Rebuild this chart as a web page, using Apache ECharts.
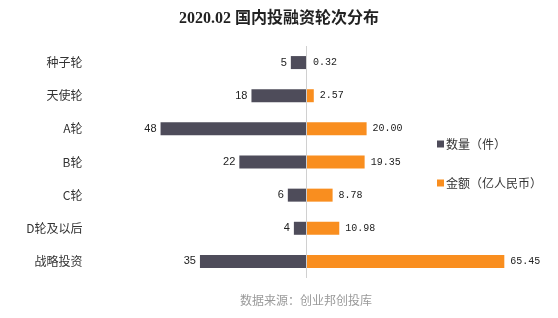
<!DOCTYPE html>
<html><head><meta charset="utf-8">
<script src="https://cdn.jsdelivr.net/npm/echarts@6/dist/echarts.min.js"></script>
<style>html,body{margin:0;padding:0;background:#fff}#c{width:558px;height:318px}</style>
</head><body><div id="c"></div>
<script>
var categories = ['种子轮','天使轮','A轮','B轮','C轮','D轮及以后','战略投资'];
var counts = [5, 18, 48, 22, 6, 4, 35];
var amounts = [0.32, 2.57, 20.00, 19.35, 8.78, 10.98, 65.45];
var seriesNames = ['数量（件）','金额（亿人民币）'];
var titleText = '2020.02 国内投融资轮次分布';
var sourceText = '数据来源：创业邦创投库';

var chart = echarts.init(document.getElementById('c'));
chart.setOption({
  animation: false,
  backgroundColor: '#fff',
  title: {
    text: titleText, left: 'center', top: 6,
    textStyle: {fontFamily: '"Liberation Serif","Noto Sans CJK SC",serif', fontSize: 16, fontWeight: 'bold', color: '#222'}
  },
  graphic: [{
    type: 'text', left: 240, top: 294,
    style: {text: sourceText, fill: '#9a9a9a', font: '12px "Noto Sans CJK SC", sans-serif'}
  }],
  legend: {
    orient: 'vertical', left: 432, top: 133, itemWidth: 7, itemHeight: 7, itemGap: 27, icon: 'rect',
    textStyle: {fontSize: 12, color: '#333', fontFamily: '"Noto Sans CJK SC", sans-serif', padding: [0, 0, 0, -3]},
    data: seriesNames
  },
  grid: {left: 154.5, width: 363.6, top: 46, height: 232},
  xAxis: {type: 'value', min: -50, max: 70, show: false},
  yAxis: {
    type: 'category', data: categories, inverse: true,
    axisLine: {show: false, onZero: false}, axisTick: {show: false},
    axisLabel: {margin: 72, fontSize: 12, color: '#333', fontFamily: '"Noto Sans CJK SC", sans-serif'}
  },
  series: [{
    name: seriesNames[0], type: 'bar', stack: 't', barWidth: 13,
    itemStyle: {color: '#4e4c5a'},
    data: counts.map(function(v){return -v;}),
    label: {show: true, position: 'left', distance: 4, color: '#222', fontSize: 11, fontFamily: '"Liberation Sans", Arial, sans-serif',
      formatter: function(p){return Math.abs(p.value);}},
    markLine: {silent: true, symbol: 'none', label: {show: false},
      lineStyle: {color: '#d0d0d0', type: 'solid', width: 1}, data: [{xAxis: 0}]}
  }, {
    name: seriesNames[1], type: 'bar', stack: 't', barWidth: 13,
    itemStyle: {color: '#f98e1f'},
    data: amounts,
    label: {show: true, position: 'right', distance: 6, color: '#222', fontSize: 10, fontFamily: '"Liberation Mono", monospace',
      formatter: function(p){return p.value.toFixed(2);}}
  }]
});
</script></body></html>
